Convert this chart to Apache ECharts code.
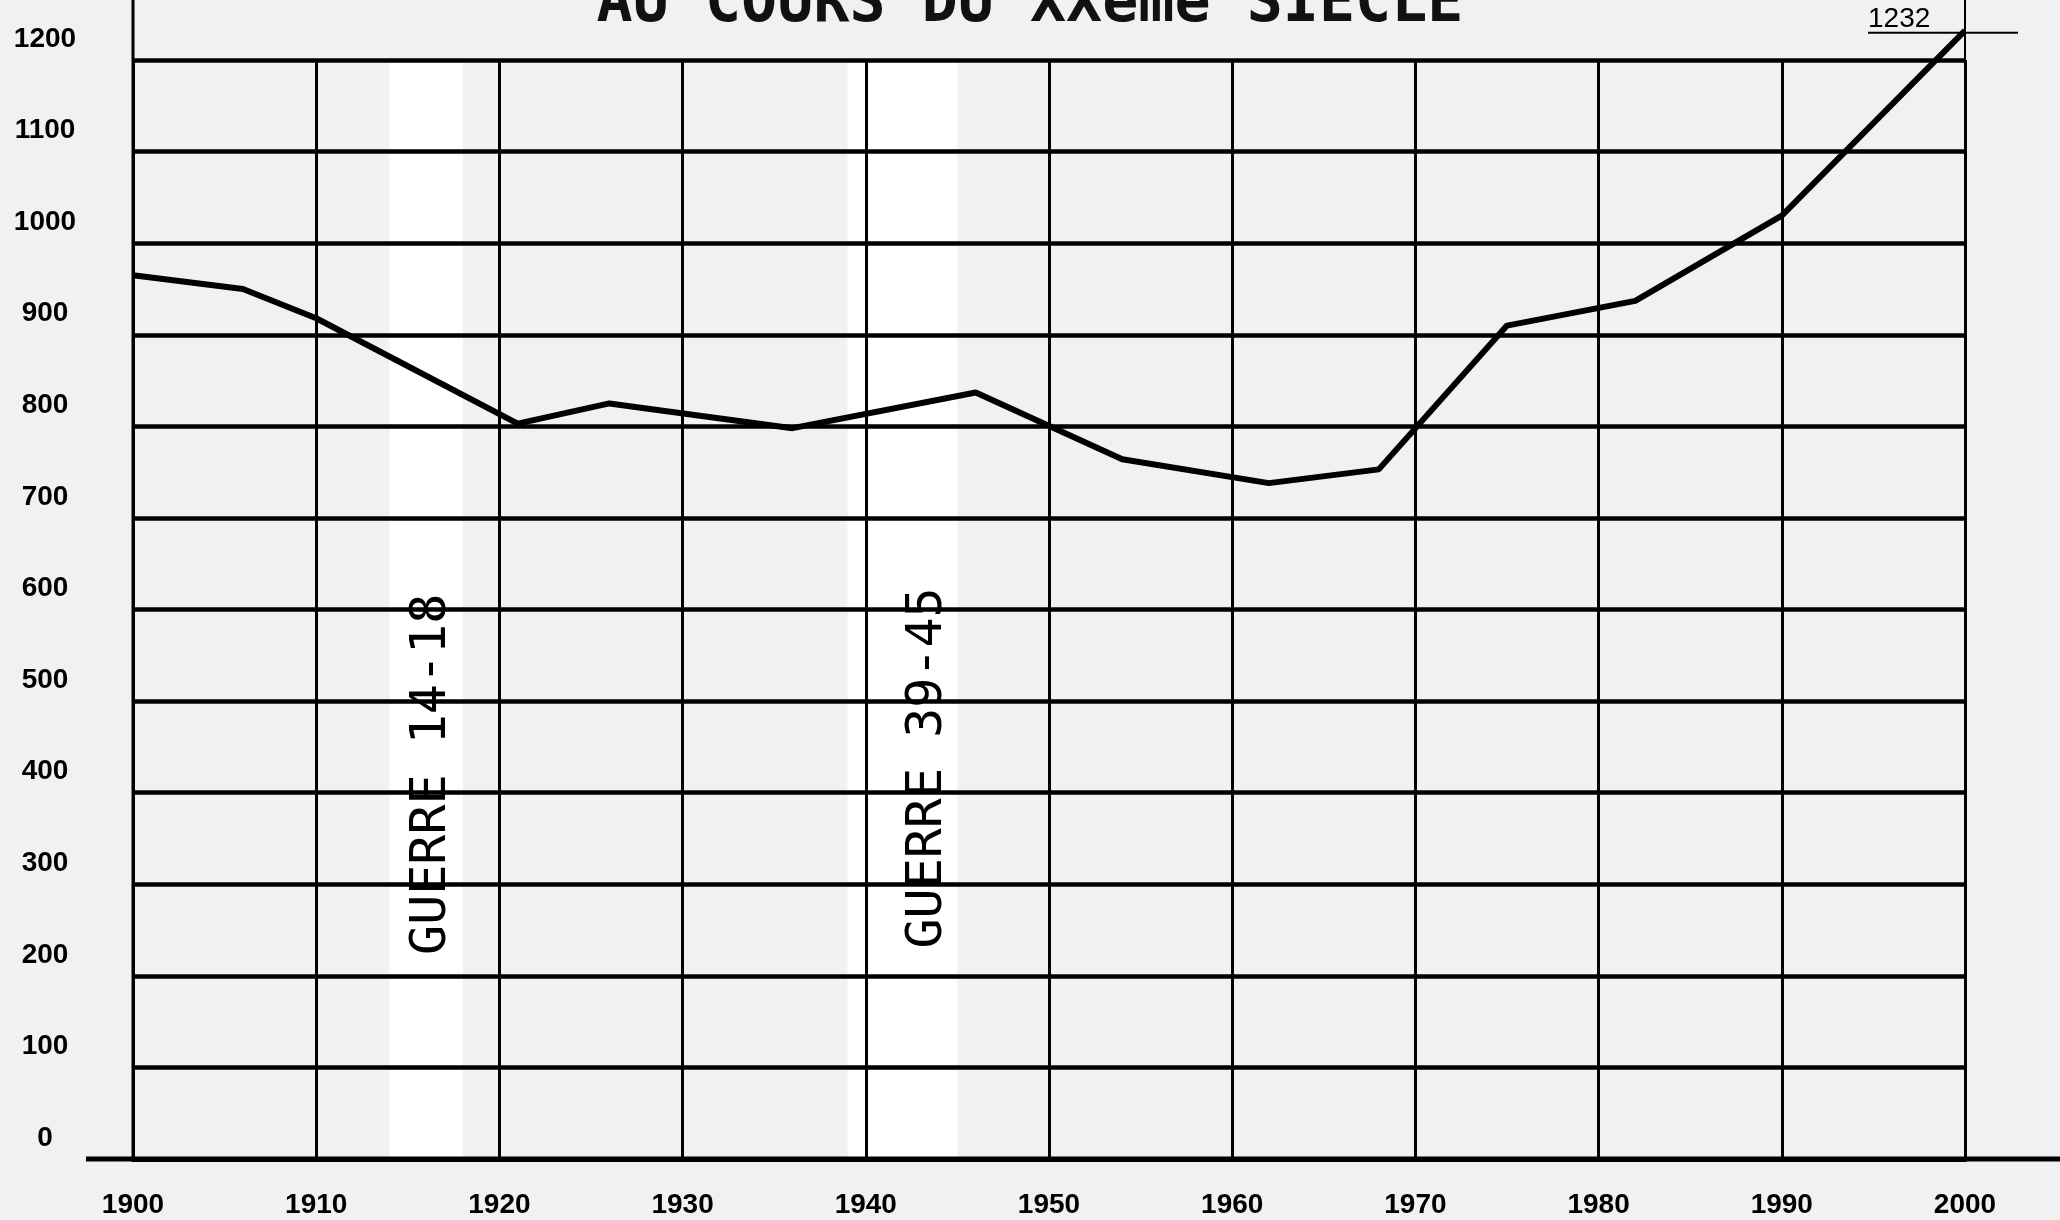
<!DOCTYPE html>
<html>
<head>
<meta charset="utf-8">
<script src="https://cdn.jsdelivr.net/npm/echarts@6/dist/echarts.min.js"></script>
<style>
html,body{margin:0;padding:0;background:#f1f1f1;}
#c{width:2060px;height:1220px;}
</style>
</head>
<body>
<div id="c"></div>
<script>
// ---- data ----
const years  = [1900, 1906, 1910, 1921, 1926, 1936, 1946, 1954, 1962, 1968, 1975, 1982, 1990, 2000];
const values = [965,  950,  918,  803,  825,  798,  837,  764,  738,  753,  910,  937,  1030, 1232];
const xTicks = [1900, 1910, 1920, 1930, 1940, 1950, 1960, 1970, 1980, 1990, 2000];
const yTicks = [0, 100, 200, 300, 400, 500, 600, 700, 800, 900, 1000, 1100, 1200];
const warPeriods = [[1914, 1918], [1939, 1945]];
const warLabels = ['GUERRE 14-18', 'GUERRE 39-45'];
const warLabelPos = [[1916.3, 420], [1943.4, 427]];
const titleText = 'AU COURS DU XXème SIECLE';
const peakLabel = '1232';

const labelFont = "'Liberation Sans', Arial, sans-serif";
const monoFont = "'DejaVu Sans Mono', 'Liberation Mono', monospace";

const chart = echarts.init(document.getElementById('c'), null, {renderer: 'canvas'});

const option = {
  backgroundColor: '#f1f1f1',
  animation: false,
  title: {
    text: titleText,
    left: 'center',
    top: -30,
    textStyle: {fontFamily: monoFont, fontSize: 60, fontWeight: 'bold', color: '#111'}
  },
  grid: {left: 133, right: 95, top: 60, bottom: 61},
  xAxis: {
    type: 'value', min: xTicks[0], max: xTicks[xTicks.length - 1], interval: 10,
    z: 3,
    axisLine: {show: true, lineStyle: {color: '#000', width: 5}},
    axisTick: {show: false},
    splitLine: {show: true, lineStyle: {color: '#000', width: 3}},
    axisLabel: {
      margin: 32, color: '#000', fontFamily: labelFont, fontWeight: 'bold', fontSize: 28,
      formatter: v => xTicks.includes(v) ? String(v) : ''
    }
  },
  yAxis: {
    type: 'value', min: yTicks[0], max: yTicks[yTicks.length - 1], interval: 100,
    z: 3,
    axisLine: {show: true, lineStyle: {color: '#000', width: 3}},
    axisTick: {show: false},
    splitLine: {show: true, lineStyle: {color: '#000', width: 4.5}},
    axisLabel: {
      margin: 88, align: 'center', verticalAlign: 'bottom', padding: [0, 0, 7, 0],
      color: '#000', fontFamily: labelFont, fontWeight: 'bold', fontSize: 28,
      formatter: v => yTicks.includes(v) ? String(v) : ''
    }
  },
  series: [{
    type: 'line',
    data: [],
    z: 1,
    silent: true,
    markArea: {
      silent: true,
      itemStyle: {color: '#ffffff'},
      data: warPeriods.map(p => [{xAxis: p[0], yAxis: 0}, {xAxis: p[1], yAxis: 1200}])
    }
  }, {
    type: 'line',
    data: years.map((y, i) => [y, values[i]]),
    symbol: 'none',
    clip: false,
    z: 6,
    lineStyle: {color: '#000', width: 6},
    markPoint: {
      silent: true,
      symbol: 'circle', symbolSize: 0,
      data: warLabels.map((t, i) => ({
        coord: warLabelPos[i],
        label: {
          show: true, position: 'inside', rotate: 90, formatter: t,
          fontFamily: monoFont, fontSize: 50, color: '#000'
        }
      }))
    }
  }]
};
chart.setOption(option);

function addGraphics() {
  const p0 = chart.convertToPixel({gridIndex: 0}, [xTicks[0], 0]);
  const peak = chart.convertToPixel({gridIndex: 0}, [years[years.length - 1], values[values.length - 1]]);
  const g = [];
  // x axis extension
  g.push({type: 'line', shape: {x1: p0[0] - 47, y1: p0[1], x2: 2060, y2: p0[1]}, style: {stroke: '#000', lineWidth: 5}, z: 10});
  // y axis extension to top
  g.push({type: 'line', shape: {x1: p0[0], y1: p0[1], x2: p0[0], y2: 0}, style: {stroke: '#000', lineWidth: 3}, z: 10});
  // peak crosshair
  g.push({type: 'line', shape: {x1: peak[0] - 97, y1: peak[1] + 2, x2: peak[0] + 53, y2: peak[1] + 2}, style: {stroke: '#000', lineWidth: 2}, z: 10});
  g.push({type: 'line', shape: {x1: peak[0], y1: 0, x2: peak[0], y2: peak[1] + 50}, style: {stroke: '#000', lineWidth: 2}, z: 10});
  g.push({type: 'text', x: peak[0] - 97, y: peak[1] + 3, z: 10,
    style: {text: peakLabel, fill: '#000', font: "28px " + labelFont, textAlign: 'left', textVerticalAlign: 'bottom'}});
  chart.setOption({graphic: g});
}
addGraphics();
</script>
</body>
</html>
